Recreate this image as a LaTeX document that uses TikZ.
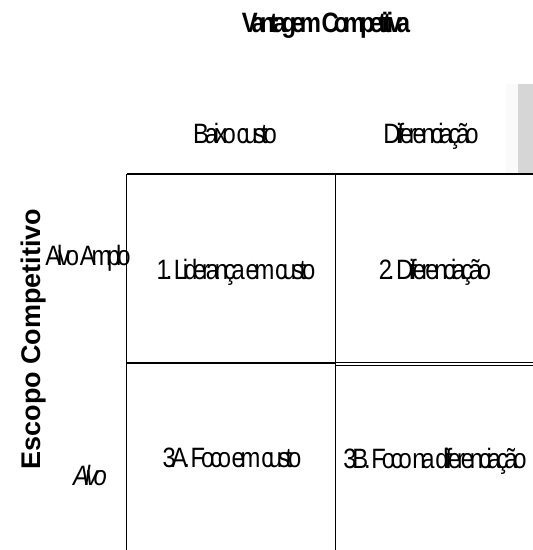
\documentclass[tikz,border=0pt]{standalone}
\usepackage{fontspec}
\setmainfont{Liberation Sans}
\newfontfamily\sqfont[FakeStretch=0.85,LetterSpace=-15,WordSpace=0.3]{Liberation Sans}
\newfontfamily\sqboldfont[FakeStretch=0.85,LetterSpace=-17,WordSpace=0.3]{Liberation Sans Bold}
\begin{document}
\begin{tikzpicture}[x=1pt,y=-1pt,
  gridline/.style={line width=1.3pt, black},
  sqlabel/.style={font=\sqfont\fontsize{28}{30}\selectfont, anchor=base, inner sep=0pt},
  axislabel/.style={font=\bfseries\fontsize{27}{30}\selectfont, anchor=base, inner sep=0pt}]
\useasboundingbox (0,0) rectangle (533,550);
\begin{scope}
\clip (0,0) rectangle (533,550);
% grey strip at right
\fill[gray!4] (506,84) rectangle (518,173);
\fill[gray!32] (518,84) rectangle (533,173);
% grid coordinates
\coordinate (tl) at (126.5,174);
\coordinate (tm) at (335.5,174);
\coordinate (tr) at (540,174);
\coordinate (ml) at (126.5,363);
\coordinate (mm) at (335.5,363);
\coordinate (mra) at (335.5,362.8);
\coordinate (mrb) at (335.5,365.6);
\coordinate (mrA) at (540,362.8);
\coordinate (mrB) at (540,365.6);
\coordinate (bl) at (126.5,560);
\coordinate (bm) at (335.5,560);
\draw[gridline] (tl) -- (tr);
\draw[gridline] (tl) -- (bl);
\draw[gridline] (tm) -- (bm);
\draw[gridline, line width=1.8pt] (ml) -- (mm);
\draw[gridline, line width=1pt] (mra) -- (mrA);
\draw[gridline, line width=1pt] (mrb) -- (mrB);
\end{scope}
% labels
\node[sqlabel, font=\sqboldfont\fontsize{28}{30}\selectfont] (title) at (326,32) {Vantagem Competitiva};
\node[sqlabel] (baixo) at (235,143) {Baixo custo};
\node[sqlabel] (difer) at (431,143) {Diferenciação};
\node[sqlabel] (amplo) at (88,265) {Alvo Amplo};
\node[sqlabel] (alvo) at (90,485) {\itshape Alvo};
\node[sqlabel] (c1) at (236,279) {1. Liderança em custo};
\node[sqlabel] (c2) at (435,279) {2. Diferenciação};
\node[sqlabel] (c3a) at (232,467) {3A. Foco em custo};
\node[sqlabel] (c3b) at (435,468) {3B. Foco na diferenciação};
\node[axislabel, rotate=90] (escopo) at (40,339) {Escopo Competitivo};
\end{tikzpicture}
\end{document}
